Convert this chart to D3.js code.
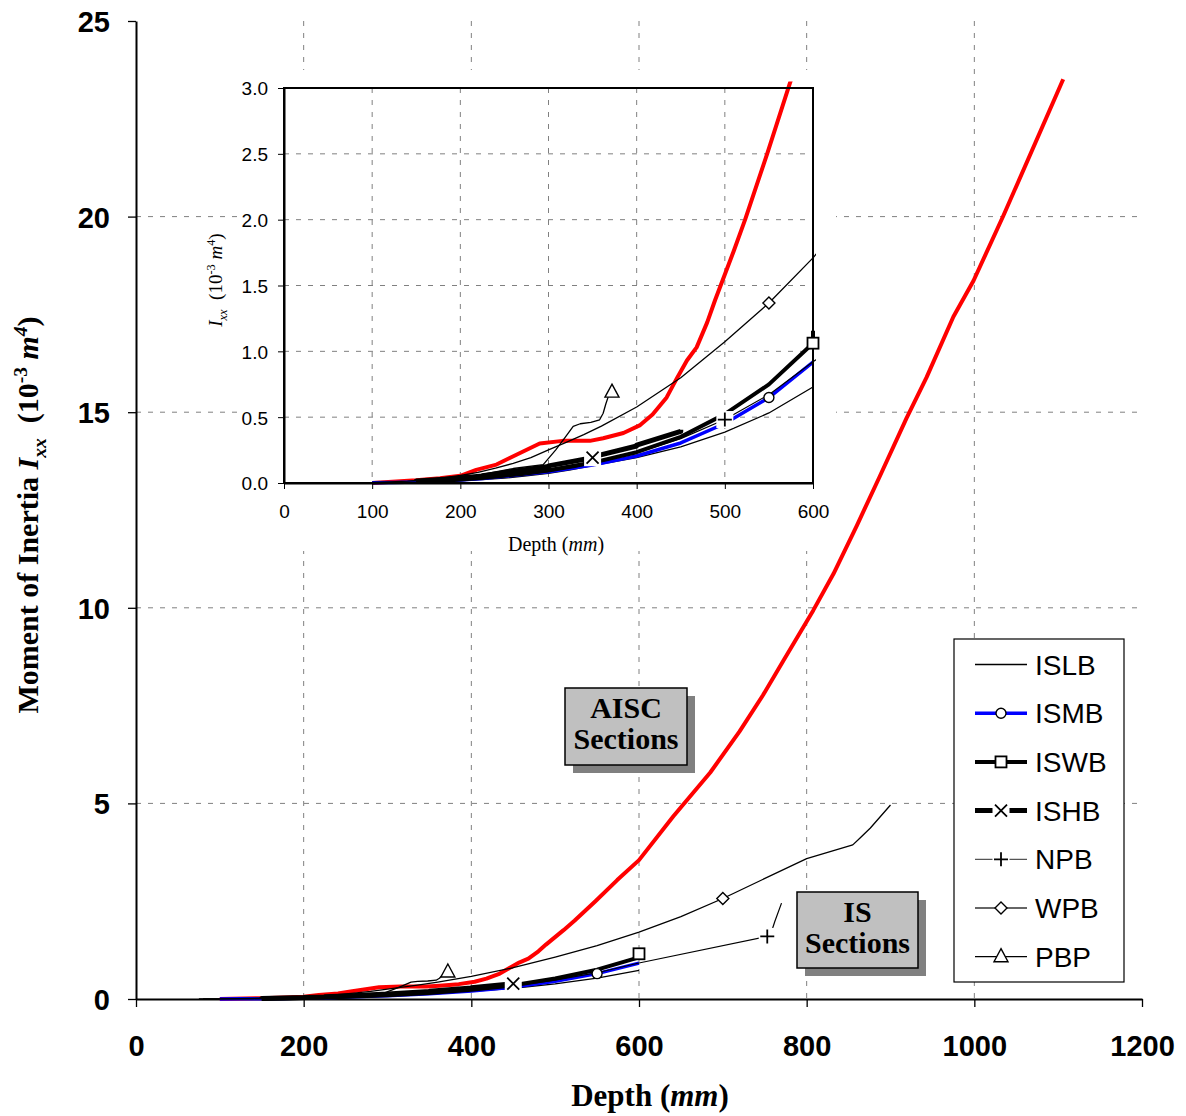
<!DOCTYPE html>
<html>
<head>
<meta charset="utf-8">
<script src="https://cdn.jsdelivr.net/npm/d3@7"></script>
<style>
body { margin: 0; background: #fff; }
svg { display: block; }
</style>
</head>
<body>
<svg id="chart" width="1186" height="1116"></svg>
<script>
// depth (mm) , Ixx (10^-3 m^4)
var aiscData = [[100,0.0],[150,0.02],[177,0.036],[200,0.055],[218,0.10],[241,0.14],[256,0.19],[290,0.30],[316,0.32],[347,0.32],[362,0.34],[385,0.38],[404,0.44],[418,0.52],[434,0.65],[446,0.80],[457,0.93],[468,1.03],[480,1.22],[489,1.39],[510,1.76],[523,2.0],[548,2.5],[574,3.04],[600,3.55],[641,4.67],[685,5.79],[720,6.84],[748,7.77],[772,8.64],[808,9.94],[832,10.87],[860,12.11],[887,13.35],[919,14.84],[943,15.89],[975,17.44],[999,18.36],[1035,20.04],[1106,23.51]];
var islbData = [[75,0.0007],[100,0.0017],[125,0.0041],[150,0.0069],[175,0.011],[200,0.017],[225,0.025],[250,0.037],[275,0.054],[300,0.073],[325,0.099],[350,0.132],[400,0.193],[450,0.275],[500,0.386],[550,0.532],[600,0.729]];
var ismbData = [[100,0.0026],[125,0.0045],[150,0.0073],[175,0.0127],[200,0.0224],[225,0.0344],[250,0.0513],[300,0.086],[350,0.136],[400,0.205],[450,0.304],[500,0.452],[550,0.649],[600,0.918]];
var iswbData = [[150,0.0084],[175,0.0136],[200,0.0262],[225,0.0392],[250,0.0594],[300,0.098],[350,0.155],[400,0.234],[450,0.351],[500,0.523],[550,0.749],[600,1.062],[600,1.156]];
var ishbData = [[150,0.0146],[150,0.0154],[200,0.0361],[200,0.0373],[225,0.0528],[225,0.0548],[250,0.0774],[250,0.0798],[300,0.125],[300,0.130],[350,0.192],[350,0.198],[400,0.281],[400,0.288],[450,0.392],[450,0.404]];
var npbData = [[80,0.0008],[100,0.0017],[120,0.0032],[140,0.0054],[160,0.0087],[180,0.0132],[200,0.0194],[220,0.0277],[240,0.0389],[270,0.058],[300,0.084],[330,0.118],[360,0.163],[400,0.231],[450,0.337],[500,0.482],[550,0.671],[600,0.921],[753,1.60],[758,1.72],[762,1.98],[770,2.45]];
var wpbData = [[100,0.0045],[120,0.0086],[140,0.015],[160,0.025],[180,0.038],[200,0.057],[220,0.081],[240,0.113],[260,0.149],[280,0.193],[300,0.252],[320,0.308],[340,0.367],[360,0.432],[400,0.577],[450,0.799],[500,1.072],[550,1.367],[600,1.71],[650,2.106],[700,2.569],[800,3.59],[830,3.78],[855,3.94],[864,4.12],[876,4.37],[900,4.96]];
var pbpData = [[200,0.03],[220,0.06],[260,0.11],[294,0.14],[308,0.25],[317,0.33],[328,0.43],[336,0.45],[348,0.46],[358,0.48],[362,0.53],[365,0.60],[368,0.66],[372,0.69]];

var mainXTicks = [0, 200, 400, 600, 800, 1000, 1200];
var mainYTicks = [0, 5, 10, 15, 20, 25];
var insetXTicks = [0, 100, 200, 300, 400, 500, 600];
var insetYTicks = [0, 0.5, 1.0, 1.5, 2.0, 2.5, 3.0];

// series look; mMain / mIn = index of the point that carries the marker
var series = [
    {name: 'ISLB', data: islbData, color: '#000', width: 1.3, marker: null},
    {name: 'ISMB', data: ismbData, color: '#0000ff', width: 3.5, marker: 'circle', mMain: 12, mIn: 12},
    {name: 'ISWB', data: iswbData, color: '#000', width: 4, marker: 'square', mMain: 12, mIn: 11},
    {name: 'ISHB', data: ishbData, color: '#000', width: 5, marker: 'cross', mMain: 14, mIn: 10},
    {name: 'NPB', data: npbData, color: '#000', width: 1.2, legendColor: '#555', marker: 'plus', mMain: 18, mIn: 15},
    {name: 'WPB', data: wpbData, color: '#000', width: 1.3, legendColor: '#333', marker: 'diamond', mMain: 20, mIn: 17},
    {name: 'PBP', data: pbpData, color: '#000', width: 1.3, marker: 'triangle', mMain: 13, mIn: 13}
];

var svg = d3.select('#chart');
var sans = 'Liberation Sans, Arial, sans-serif',
    serif = 'Liberation Serif, Times New Roman, serif';

var xMain = d3.scaleLinear().domain([0, 1200]).range([136, 1142]),
    yMain = d3.scaleLinear().domain([0, 25]).range([999, 21]);
var xIn = d3.scaleLinear().domain([0, 600]).range([284, 813]),
    yIn = d3.scaleLinear().domain([0, 3]).range([483, 88]);

function drawMarker(g, type, x, y) {
    var m = g.append('g').attr('transform', 'translate(' + x + ',' + y + ')');
    if (type === 'circle') {
        m.append('circle').attr('r', 5).attr('fill', '#fff').attr('stroke', '#000').attr('stroke-width', 1.4);
    } else if (type === 'square') {
        m.append('rect').attr('x', -5.5).attr('y', -5.5).attr('width', 11).attr('height', 11)
            .attr('fill', '#fff').attr('stroke', '#000').attr('stroke-width', 1.8);
    } else if (type === 'diamond') {
        m.append('path').attr('d', 'M0,-6L6,0L0,6L-6,0Z')
            .attr('fill', '#fff').attr('stroke', '#000').attr('stroke-width', 1.4);
    } else if (type === 'triangle') {
        m.append('path').attr('d', 'M0,-8L7,5L-7,5Z')
            .attr('fill', '#fff').attr('stroke', '#000').attr('stroke-width', 1.4);
    } else if (type === 'cross' || type === 'plus') {
        // white backing square cuts the lines beneath
        m.append('rect').attr('x', -8.5).attr('y', -8.5).attr('width', 17).attr('height', 17).attr('fill', '#fff');
        var d = type === 'cross' ? 'M-6,-6L6,6M6,-6L-6,6' : 'M-7,0L7,0M0,-7L0,7';
        m.append('path').attr('d', d).attr('stroke', '#000').attr('stroke-width', 1.8).attr('fill', 'none');
    }
}

function addRuns(text, runs, size) {
    var cur = 0;
    runs.forEach(function(r) {
        var off = r.sup ? -size * 0.38 : (r.sub ? size * 0.25 : 0);
        var ts = text.append('tspan').text(r.t)
            .attr('dy', off - cur)
            .attr('font-size', (r.sup || r.sub) ? size * 0.65 : size);
        if (r.it) ts.attr('font-style', 'italic');
        cur = off;
    });
}

// ---------- main chart ----------
var main = svg.append('g');

main.append('g').selectAll('line').data(mainXTicks.slice(1, -1)).enter().append('line')
    .attr('x1', xMain).attr('x2', xMain).attr('y1', yMain(25)).attr('y2', yMain(0))
    .attr('stroke', '#808080').attr('stroke-dasharray', '5,7');
main.append('g').selectAll('line').data(mainYTicks.slice(1, -1)).enter().append('line')
    .attr('y1', yMain).attr('y2', yMain).attr('x1', xMain(0)).attr('x2', xMain(1200))
    .attr('stroke', '#808080').attr('stroke-dasharray', '5,7');

var yAxisMain = main.append('g').attr('transform', 'translate(' + xMain(0) + ',0)')
    .call(d3.axisLeft(yMain).tickValues(mainYTicks).tickFormat(d3.format('d')).tickSize(8).tickSizeOuter(0).tickPadding(18));
var xAxisMain = main.append('g').attr('transform', 'translate(0,' + yMain(0) + ')')
    .call(d3.axisBottom(xMain).tickValues(mainXTicks).tickFormat(d3.format('d')).tickSize(8).tickSizeOuter(0).tickPadding(28));
[yAxisMain, xAxisMain].forEach(function(a) {
    a.select('.domain').attr('stroke', '#000').attr('stroke-width', 2);
    a.selectAll('.tick line').attr('stroke', '#000').attr('stroke-width', 1.3);
    a.selectAll('text').attr('font-family', sans).attr('font-weight', 'bold').attr('font-size', 29).attr('fill', '#000');
});
yAxisMain.selectAll('text').attr('dy', '0.36em');

var lineMain = d3.line().x(function(d) { return xMain(d[0]); }).y(function(d) { return yMain(d[1]); });
main.append('path').datum(aiscData).attr('d', lineMain)
    .attr('fill', 'none').attr('stroke', '#ff0000').attr('stroke-width', 4).attr('stroke-linejoin', 'round');
series.forEach(function(s) {
    main.append('path').datum(s.data).attr('d', lineMain)
        .attr('fill', 'none').attr('stroke', s.color).attr('stroke-width', s.width).attr('stroke-linejoin', 'round');
});
series.forEach(function(s) {
    if (!s.marker) return;
    var p = s.data[s.mMain];
    drawMarker(main, s.marker, xMain(p[0]), yMain(p[1]));
});

// main axis titles
var yTitle = main.append('text').attr('transform', 'translate(38,515) rotate(-90)')
    .attr('text-anchor', 'middle').attr('font-family', serif).attr('font-weight', 'bold');
addRuns(yTitle, [
    {t: 'Moment of Inertia '}, {t: 'I', it: true}, {t: 'xx', it: true, sub: true},
    {t: '\u00a0\u00a0(10'}, {t: '-3', sup: true}, {t: '\u00a0'}, {t: 'm', it: true}, {t: '4', it: true, sup: true}, {t: ')'}
], 30);

var xTitle = main.append('text').attr('x', 650).attr('y', 1106)
    .attr('text-anchor', 'middle').attr('font-family', serif).attr('font-weight', 'bold');
addRuns(xTitle, [{t: 'Depth ('}, {t: 'mm', it: true}, {t: ')'}], 31);

// text boxes
function textBox(x, y, w, h, lines) {
    var g = main.append('g');
    g.append('rect').attr('x', x + 8).attr('y', y + 8).attr('width', w).attr('height', h).attr('fill', '#808080');
    g.append('rect').attr('x', x).attr('y', y).attr('width', w).attr('height', h)
        .attr('fill', '#c0c0c0').attr('stroke', '#000').attr('stroke-width', 1.5);
    lines.forEach(function(t, i) {
        g.append('text').attr('x', x + w / 2).attr('y', y + 30 + i * 31)
            .attr('text-anchor', 'middle').attr('font-family', serif).attr('font-weight', 'bold')
            .attr('font-size', 30).text(t);
    });
}
textBox(565, 688, 122, 77, ['AISC', 'Sections']);
textBox(797, 892, 121, 76, ['IS', 'Sections']);

// legend
var leg = main.append('g');
leg.append('rect').attr('x', 954).attr('y', 639).attr('width', 170).attr('height', 343)
    .attr('fill', '#fff').attr('stroke', '#000').attr('stroke-width', 1.2);
series.forEach(function(s, i) {
    var cy = 664.5 + i * 48.7;
    leg.append('line').attr('x1', 975).attr('x2', 1027).attr('y1', cy).attr('y2', cy)
        .attr('stroke', s.legendColor || s.color).attr('stroke-width', s.width);
    if (s.marker) drawMarker(leg, s.marker, 1001, cy);
    leg.append('text').attr('x', 1035).attr('y', cy).attr('dy', '0.36em')
        .attr('font-family', sans).attr('font-size', 28).text(s.name);
});

// ---------- inset ----------
var inset = svg.append('g');
inset.append('rect').attr('x', 240).attr('y', 70).attr('width', 596).attr('height', 481).attr('fill', '#fff');

inset.append('g').selectAll('line').data(insetXTicks.slice(1, -1)).enter().append('line')
    .attr('x1', xIn).attr('x2', xIn).attr('y1', yIn(3)).attr('y2', yIn(0))
    .attr('stroke', '#808080').attr('stroke-dasharray', '5,7');
inset.append('g').selectAll('line').data(insetYTicks.slice(1, -1)).enter().append('line')
    .attr('y1', yIn).attr('y2', yIn).attr('x1', xIn(0)).attr('x2', xIn(600))
    .attr('stroke', '#808080').attr('stroke-dasharray', '5,7');

svg.append('defs').append('clipPath').attr('id', 'insetClip').append('rect')
    .attr('x', xIn(0)).attr('y', yIn(3.05)).attr('width', xIn(600) - xIn(0) + 3).attr('height', yIn(0) - yIn(3.05) + 2);

var lineIn = d3.line().x(function(d) { return xIn(d[0]); }).y(function(d) { return yIn(d[1]); });
var insetLines = inset.append('g').attr('clip-path', 'url(#insetClip)');
insetLines.append('path').datum(aiscData).attr('d', lineIn)
    .attr('fill', 'none').attr('stroke', '#ff0000').attr('stroke-width', 4).attr('stroke-linejoin', 'round');
series.forEach(function(s) {
    insetLines.append('path').datum(s.data).attr('d', lineIn)
        .attr('fill', 'none').attr('stroke', s.color).attr('stroke-width', s.width).attr('stroke-linejoin', 'round');
});

inset.append('rect').attr('x', xIn(0)).attr('y', yIn(3)).attr('width', xIn(600) - xIn(0)).attr('height', yIn(0) - yIn(3))
    .attr('fill', 'none').attr('stroke', '#000').attr('stroke-width', 2);

series.forEach(function(s) {
    if (!s.marker) return;
    var p = s.data[s.mIn];
    drawMarker(inset, s.marker, xIn(p[0]), yIn(p[1]));
});

var yAxisIn = inset.append('g').attr('transform', 'translate(' + xIn(0) + ',0)')
    .call(d3.axisLeft(yIn).tickValues(insetYTicks).tickFormat(d3.format('.1f')).tickSize(6).tickSizeOuter(0).tickPadding(10));
var xAxisIn = inset.append('g').attr('transform', 'translate(0,' + yIn(0) + ')')
    .call(d3.axisBottom(xIn).tickValues(insetXTicks).tickFormat(d3.format('d')).tickSize(6).tickSizeOuter(0).tickPadding(16));
[yAxisIn, xAxisIn].forEach(function(a) {
    a.select('.domain').attr('stroke', '#000').attr('stroke-width', 2);
    a.selectAll('.tick line').attr('stroke', '#000');
    a.selectAll('text').attr('font-family', sans).attr('font-size', 19).attr('fill', '#000');
});
yAxisIn.selectAll('text').attr('dy', '0.36em');

var yTitleIn = inset.append('text').attr('transform', 'translate(222,280) rotate(-90)')
    .attr('text-anchor', 'middle').attr('font-family', serif);
addRuns(yTitleIn, [
    {t: 'I', it: true}, {t: 'xx', it: true, sub: true}, {t: '\u00a0\u00a0(10'}, {t: '-3', sup: true},
    {t: '\u00a0'}, {t: 'm', it: true}, {t: '4', sup: true}, {t: ')'}
], 19);

var xTitleIn = inset.append('text').attr('x', 556).attr('y', 551)
    .attr('text-anchor', 'middle').attr('font-family', serif);
addRuns(xTitleIn, [{t: 'Depth ('}, {t: 'mm', it: true}, {t: ')'}], 20);
</script>
</body>
</html>
